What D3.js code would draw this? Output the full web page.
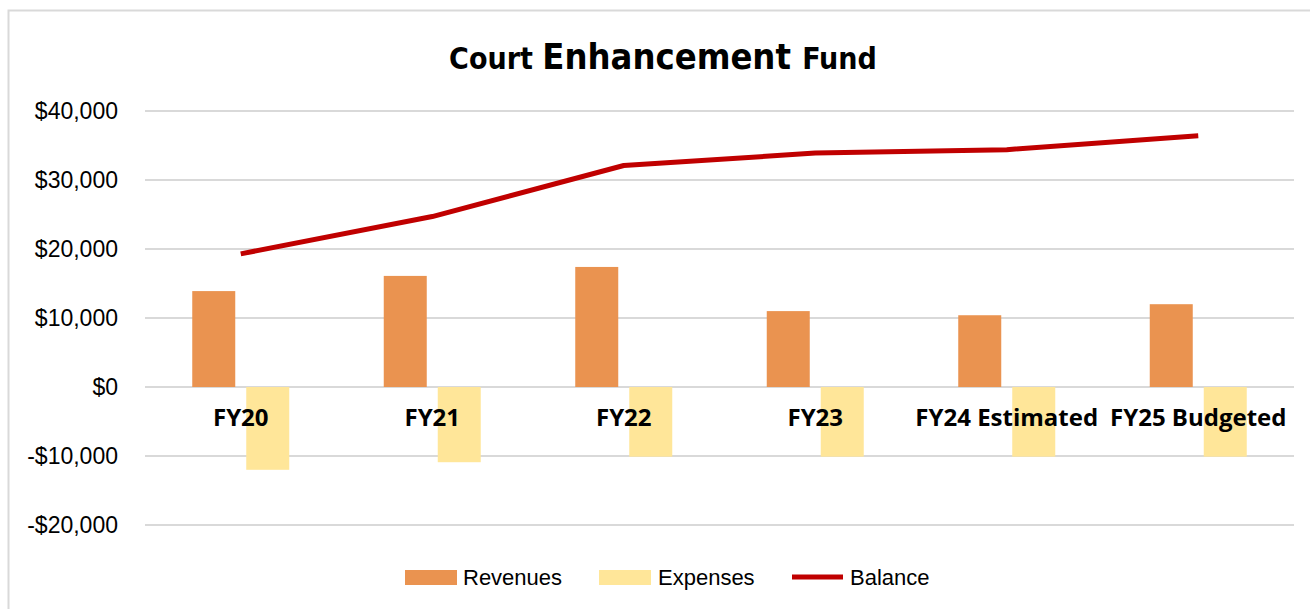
<!DOCTYPE html>
<html>
<head>
    <meta charset="utf-8">
    <title>Court Enhancement Fund</title>
    <style type="text/css">
        body { margin: 0; background: #fff; }
        svg text { fill: #000; }
        .tick-label { font-family: "Liberation Sans", Arial, sans-serif; font-size: 23px; }
        .cat-label { font-family: "Open Sans", "Noto Sans", sans-serif; font-size: 24px; font-weight: bold; }
        .legend-label { font-family: "Liberation Sans", Arial, sans-serif; font-size: 22px; }
    </style>
</head>
<body>
<div id="chart"></div>
<script src="https://cdn.jsdelivr.net/npm/d3@7"></script>
<script type="text/javascript">
    // data
    var categories = ["FY20", "FY21", "FY22", "FY23", "FY24 Estimated", "FY25 Budgeted"];
    var revenues = [13900, 16100, 17400, 11000, 10400, 12000];
    var expenses = [-12000, -10900, -10100, -10100, -10100, -10100];
    var balance = [19300, 24700, 32100, 33900, 34400, 36400];
    var yTicks = [-20000, -10000, 0, 10000, 20000, 30000, 40000];

    var W = 1310, H = 609;
    var svg = d3.select('#chart').append('svg')
        .attr('width', W).attr('height', H);

    // chart border
    svg.append('rect')
        .attr('x', 8.5).attr('y', 10.5)
        .attr('width', W + 10).attr('height', H + 10)
        .attr('fill', 'none').attr('stroke', '#d9d9d9').attr('stroke-width', 2);

    // title
    var title = svg.append('text')
        .attr('x', 663).attr('y', 69)
        .attr('text-anchor', 'middle')
        .style('font-family', '"Liberation Sans Narrow", "DejaVu Sans Condensed", sans-serif')
        .style('font-weight', 'bold');
    title.append('tspan').style('font-size', '30px').text('Court ');
    title.append('tspan').style('font-size', '36px').text('Enhancement ');
    title.append('tspan').style('font-size', '30px').text('Fund');

    var x = d3.scaleBand().domain(categories).range([145, 1294]);
    var y = d3.scaleLinear().domain([-20000, 40000]).range([525, 111]);

    // gridlines
    svg.append('g').selectAll('line')
        .data(yTicks).enter().append('line')
        .attr('x1', 145).attr('x2', 1294)
        .attr('y1', function (d) { return y(d); })
        .attr('y2', function (d) { return y(d); })
        .attr('stroke', '#d9d9d9').attr('stroke-width', 2);

    // y tick labels
    var fmt = function (d) {
        return (d < 0 ? '-$' : '$') + d3.format(',')(Math.abs(d));
    };
    svg.append('g').selectAll('text')
        .data(yTicks).enter().append('text')
        .attr('class', 'tick-label')
        .attr('x', 118).attr('text-anchor', 'end')
        .attr('y', function (d) { return y(d) + 8; })
        .text(fmt);

    var barW = 43, off = 27;

    // revenues bars
    svg.append('g').selectAll('rect')
        .data(revenues).enter().append('rect')
        .attr('x', function (d, i) { return x(categories[i]) + x.bandwidth() / 2 - off - barW / 2; })
        .attr('y', function (d) { return y(d); })
        .attr('width', barW)
        .attr('height', function (d) { return y(0) - y(d); })
        .attr('fill', '#EA9350');

    // expenses bars
    svg.append('g').selectAll('rect')
        .data(expenses).enter().append('rect')
        .attr('x', function (d, i) { return x(categories[i]) + x.bandwidth() / 2 + off - barW / 2; })
        .attr('y', y(0))
        .attr('width', barW)
        .attr('height', function (d) { return y(d) - y(0); })
        .attr('fill', '#FFE699');

    // category labels (drawn over bars)
    svg.append('g').selectAll('text')
        .data(categories).enter().append('text')
        .attr('class', 'cat-label')
        .attr('x', function (d) { return x(d) + x.bandwidth() / 2; })
        .attr('y', 426)
        .attr('text-anchor', 'middle')
        .text(function (d) { return d; });

    // balance line
    var line = d3.line()
        .x(function (d, i) { return x(categories[i]) + x.bandwidth() / 2; })
        .y(function (d) { return y(d); });
    svg.append('path')
        .datum(balance)
        .attr('d', line)
        .attr('fill', 'none')
        .attr('stroke', '#C00000')
        .attr('stroke-width', 5)
        .attr('stroke-linejoin', 'round');

    // legend
    var lg = svg.append('g');
    lg.append('rect').attr('x', 405).attr('y', 570).attr('width', 52).attr('height', 15).attr('fill', '#EA9350');
    lg.append('text').attr('class', 'legend-label').attr('x', 463).attr('y', 585).text('Revenues');
    lg.append('rect').attr('x', 599).attr('y', 570).attr('width', 52).attr('height', 15).attr('fill', '#FFE699');
    lg.append('text').attr('class', 'legend-label').attr('x', 658).attr('y', 585).text('Expenses');
    lg.append('line').attr('x1', 792).attr('x2', 843).attr('y1', 577).attr('y2', 577)
        .attr('stroke', '#C00000').attr('stroke-width', 5);
    lg.append('text').attr('class', 'legend-label').attr('x', 850).attr('y', 585).text('Balance');
</script>
</body>
</html>
